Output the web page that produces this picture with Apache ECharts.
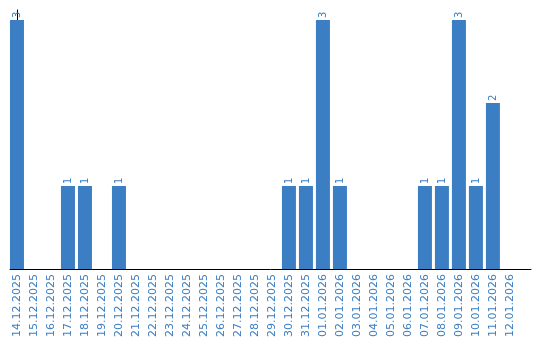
<!DOCTYPE html>
<html><head><meta charset="utf-8">
<script src="https://cdn.jsdelivr.net/npm/echarts@6/dist/echarts.min.js"></script>
<style>html,body{margin:0;padding:0;background:#fff}#c{width:540px;height:340px}</style>
</head><body><div id="c"></div>
<script>
const categories = ["14.12.2025","15.12.2025","16.12.2025","17.12.2025","18.12.2025","19.12.2025","20.12.2025","21.12.2025","22.12.2025","23.12.2025","24.12.2025","25.12.2025","26.12.2025","27.12.2025","28.12.2025","29.12.2025","30.12.2025","31.12.2025","01.01.2026","02.01.2026","03.01.2026","04.01.2026","05.01.2026","06.01.2026","07.01.2026","08.01.2026","09.01.2026","10.01.2026","11.01.2026","12.01.2026"];
const values = [3,0,0,1,1,0,1,0,0,0,0,0,0,0,0,0,1,1,3,1,0,0,0,0,1,1,3,1,2,0];
const blue = '#3b7ec3';
const chart = echarts.init(document.getElementById('c'), null, {renderer:'canvas'});
chart.setOption({
  animation:false,
  grid:{left:10,right:9,top:10,bottom:70,containLabel:false},
  xAxis:{type:'value',min:-0.41,max:30.24,
    axisLine:{show:true,onZero:false,lineStyle:{color:'#000',width:1}},
    axisTick:{show:false},splitLine:{show:false},
    axisLabel:{customValues:categories.map((c,i)=>i),rotate:90,color:blue,fontFamily:'DejaVu Sans',fontSize:11,margin:5,
      formatter:(v)=>categories[Math.round(v)]||''}},
  yAxis:{type:'value',min:0,max:3.12,
    axisLine:{show:true,lineStyle:{color:'#000',width:1}},
    axisTick:{show:false},axisLabel:{show:false},splitLine:{show:false}},
  series:[{type:'bar',barWidth:14,itemStyle:{color:blue},
    data:values.map((v,i)=>[i,v]),
    label:{show:true,position:'top',rotate:90,align:'left',verticalAlign:'middle',distance:2,
      color:blue,fontFamily:'DejaVu Sans',fontSize:10,
      formatter:(p)=>p.value[1]?String(p.value[1]):''}}]
});
</script></body></html>
